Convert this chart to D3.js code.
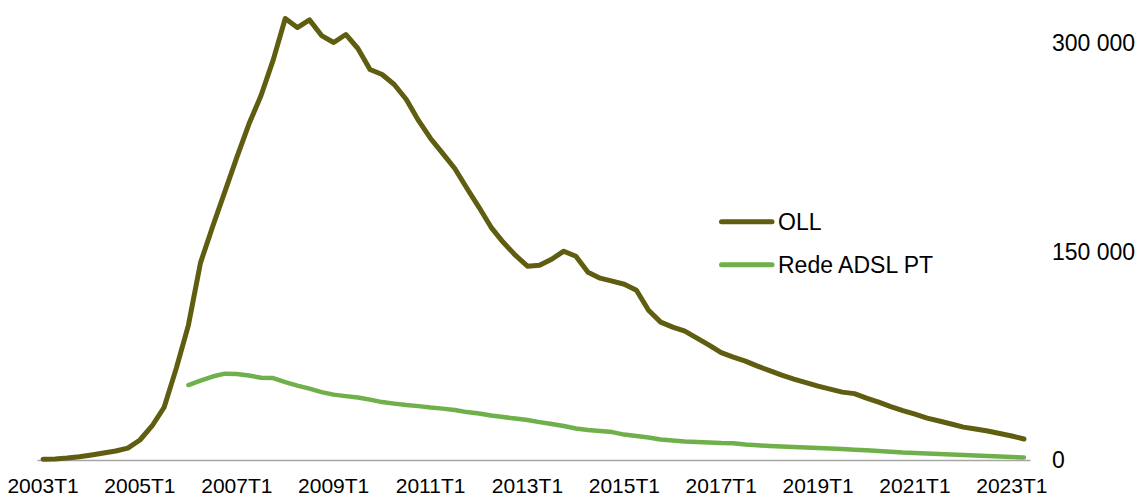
<!DOCTYPE html>
<html>
<head>
<meta charset="utf-8">
<script src="https://cdn.jsdelivr.net/npm/d3@7"></script>
<style>
	html, body { margin: 0; padding: 0; background: #fff; }
	svg { display: block; font-family: "Liberation Sans", Arial, sans-serif; }
</style>
</head>
<body>
<div id="chart"></div>
<script>
(function () {
	'use strict';

	// quarters 2003T1 .. 2023T2
	var quarters = [];
	for (var yr = 2003; yr <= 2023; yr++) {
		for (var q = 1; q <= 4; q++) {
			if (yr == 2023 && q > 2) break;
			quarters.push(yr + "T" + q);
		}
	}

	var tickLabels = ["2003T1", "2005T1", "2007T1", "2009T1", "2011T1", "2013T1",
		"2015T1", "2017T1", "2019T1", "2021T1", "2023T1"];
	var yTicks = [0, 150000, 300000];

	var oll = [
		500, 700, 1400, 2300, 3600, 5000, 6500, 8600, 14400, 24500,
		38000, 66000, 97000, 142000, 168000, 193000, 218000, 242000, 262500, 288000,
		318000, 311500, 317000, 305700, 300700, 306500, 296400, 281300, 277700, 270500,
		259700, 244600, 231600, 220900, 210000, 195700, 182000, 167600, 156800, 147500,
		139600, 140300, 144600, 150400, 146800, 135200, 131000, 128800, 126600, 122300,
		107900, 99300, 95700, 92800, 87800, 82700, 77300, 74100, 71200, 67600,
		64400, 61100, 58300, 55800, 53200, 51100, 48900, 47800, 44600, 41700,
		38500, 35600, 33100, 30200, 28100, 25900, 23700, 22300, 20900, 19100,
		17300, 15100
	];

	var redeAdsl = [
		null, null, null, null, null, null, null, null, null, null,
		null, null, 54000, 57200, 60100, 62200, 62000, 60800, 59300, 59000,
		56100, 53600, 51400, 48900, 47100, 46000, 45000, 43500, 41700, 40600,
		39600, 38800, 37800, 37000, 36000, 34500, 33500, 32000, 30900, 29900,
		28800, 27300, 25900, 24500, 22700, 21600, 20900, 20100, 18300, 17300,
		16200, 14700, 14000, 13300, 12900, 12600, 12200, 12000, 11200, 10600,
		10100, 9700, 9400, 9000, 8600, 8300, 7900, 7400, 7000, 6500,
		6000, 5400, 5000, 4700, 4300, 4000, 3600, 3200, 2900, 2500,
		2200, 1800
	];

	var series = [
		{name: "OLL", values: oll, color: "#5e5d10", width: 5},
		{name: "Rede ADSL PT", values: redeAdsl, color: "#6fb04b", width: 4.5}
	];

	var width = 1140, height = 495;

	var svg = d3.select("#chart")
		.append("svg")
		.attr("width", width)
		.attr("height", height);

	var x = d3.scaleBand()
		.domain(quarters)
		.range([37, 1030])
		.paddingInner(0)
		.paddingOuter(0);

	var y = d3.scaleLinear()
		.domain([0, 300000])
		.range([460, 43.5]);

	var ptLocale = d3.formatLocale({decimal: ",", thousands: " ", grouping: [3], currency: ["", ""]});

	// x axis
	var xAxis = svg.append("g")
		.attr("transform", "translate(0," + y(0) + ")")
		.call(d3.axisBottom(x).tickValues(tickLabels).tickSize(0).tickSizeOuter(0));
	xAxis.select(".domain")
		.attr("stroke", "#a6a6a6")
		.attr("stroke-width", 1.5);
	xAxis.selectAll("text")
		.attr("y", 32.7)
		.attr("dy", 0)
		.attr("fill", "#000")
		.style("font-size", "21px");

	// y axis on the right
	var yAxis = svg.append("g")
		.attr("transform", "translate(1052,0)")
		.call(d3.axisRight(y).tickValues(yTicks).tickSize(0).tickPadding(0).tickFormat(ptLocale.format(",d")));
	yAxis.select(".domain").remove();
	yAxis.selectAll("text")
		.attr("fill", "#000")
		.style("font-size", "23px");

	var line = d3.line()
		.defined(function(d) { return d != null; })
		.x(function(d, i) { return x(quarters[i]) + x.bandwidth() / 2; })
		.y(function(d) { return y(d); });

	svg.selectAll("path.series")
		.data(series.slice().reverse())
		.enter()
		.append("path")
		.attr("class", "series")
		.attr("fill", "none")
		.attr("stroke", function(d) { return d.color; })
		.attr("stroke-width", function(d) { return d.width; })
		.attr("stroke-linejoin", "round")
		.attr("stroke-linecap", "round")
		.attr("d", function(d) { return line(d.values); });

	// legend
	var legend = svg.selectAll("g.legend")
		.data(series)
		.enter()
		.append("g")
		.attr("class", "legend")
		.attr("transform", function(d, i) { return "translate(0," + (221.7 + i * 43) + ")"; });

	legend.append("line")
		.attr("x1", 721.5)
		.attr("x2", 772)
		.attr("stroke", function(d) { return d.color; })
		.attr("stroke-width", 5)
		.attr("stroke-linecap", "round");

	legend.append("text")
		.attr("x", 778)
		.attr("dy", "0.35em")
		.style("font-size", "23px")
		.attr("fill", "#000")
		.text(function(d) { return d.name; });
}());
</script>
</body>
</html>
